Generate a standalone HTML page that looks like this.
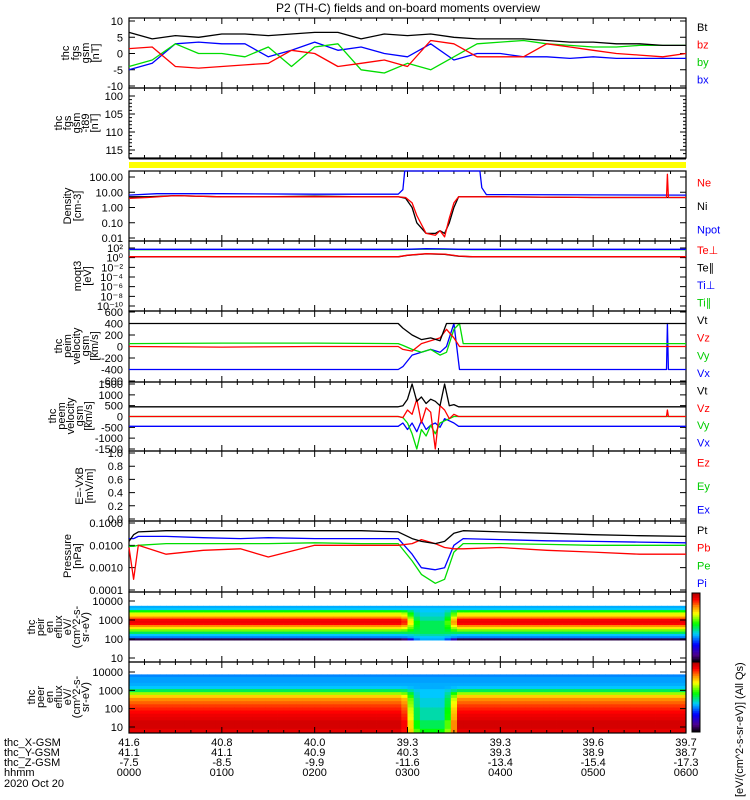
<!DOCTYPE html>
<html><head><meta charset="utf-8"><style>
html,body{margin:0;padding:0;background:#fff;}
svg{display:block;font-family:"Liberation Sans",sans-serif;}
</style></head><body>
<svg id="chart" width="750" height="800" viewBox="0 0 750 800">
<rect width="750" height="800" fill="#fff"/>
<text x="408" y="12" font-size="12" text-anchor="middle">P2 (TH-C) fields and on-board moments overview</text>
<g id="g"></g>
</svg>
<script>
// ---------- data ----------
const tB = [0,0.25,0.5,0.75,1,1.25,1.5,1.75,2,2.25,2.5,2.75,3,3.25,3.5,3.75,4,4.25,4.5,4.75,5,5.25,5.5,5.75,6];
const Bt = [6.5,4.5,5.5,5,6,6,5.5,6,6.5,6.5,4.5,6,5.5,6,5,4.5,4.5,4.5,4,3.5,3.5,3,3,2.5,2.5];
const bz = [1.5,2,-4,-4.5,-4,-3.5,-3,1,0,-4,-3,-2,-4,4,3,-1,-1,-1,3,2,1,0,-0.5,-1,0];
const by = [-4,-2,3,0,0,-1,2,-4,2,3,-5,-6,-3,-5,-1,3,3.5,4,3,2.5,2,2,2.5,2.5,2.5];
const bx = [-5,-3,3,3.5,3,3,-1,1,3.5,1,2,0,-1,3,-2,0,0,-1,-1,-1.5,-1,-1.5,-1.5,-1.5,-1.5];

const tN = [0,0.2,0.5,1,1.5,2,2.5,2.9,2.98,3.05,3.1,3.2,3.3,3.35,3.4,3.45,3.5,3.55,3.6,4,5,5.79,5.8,5.81,6];
const Ni = [5,5,6,5,5,5.5,5,5,4,1,0.1,0.02,0.02,0.03,0.02,0.1,1,5,5,5,4.5,4.5,4.5,4.5,4.5];
const Ne = [4,4.5,6,5,5,5,5,5,4.5,2,0.3,0.02,0.015,0.03,0.012,0.2,2,5,5,5,4.5,4.5,150,4.5,4.5];
const tP = [0,0.3,1,2,2.9,2.95,2.97,3.78,3.8,3.85,6];
const Npot = [6.5,8,8,7.5,7.5,15,300,300,20,7,6.5];

const tT = [0,1,2,2.9,3.0,3.2,3.4,3.55,3.7,6];
const Tipar = [45,45,45,45,48,60,55,50,45,45];
const Tiperp = [55,55,55,55,55,70,65,55,55,55];
const Tepar = [1.5,1.5,1.5,1.5,3,6,5,2,1.5,1.5];
const Teperp = [1.6,1.6,1.6,1.6,3.2,6.5,5.5,2.2,1.6,1.6];

const tV = [0,1,2,2.9,2.95,3.05,3.15,3.25,3.35,3.42,3.5,3.56,3.6,5.79,5.8,5.81,6];
const Vt = [400,400,400,400,320,200,120,150,100,400,400,400,400,400,400,400,400];
const Vz = [0,-10,0,0,-50,-80,50,100,150,300,150,0,0,0,0,0,0];
const Vy = [50,60,60,50,20,-50,-100,-50,-150,-100,300,400,50,50,50,50,50];
const Vx = [-400,-400,-400,-400,-350,-150,-100,-50,-100,0,400,-400,-400,-400,400,-400,-400];

const tE = [0,1,2,2.9,2.95,3.0,3.05,3.1,3.15,3.2,3.25,3.3,3.35,3.4,3.45,3.5,3.55,4,5,5.79,5.8,5.81,6];
const eVt = [450,450,450,450,500,800,1500,700,900,600,800,700,500,1500,500,550,450,450,450,450,450,450,450];
const eVz = [0,0,0,0,-50,300,100,800,-300,400,200,-1500,500,300,-100,100,0,0,0,0,300,0,0];
const eVy = [0,0,0,0,-50,-300,-800,-1500,-600,-900,-400,-800,-300,-200,-100,0,0,0,0,0,0,0,0];
const eVx = [-450,-450,-450,-450,-300,-600,-300,-700,-200,-600,-400,-300,-500,-100,-200,-300,-450,-450,-450,-450,-450,-450,-450];

const tPr = [0,0.05,0.1,0.4,0.8,1.2,1.5,2,2.5,2.9,3.05,3.15,3.3,3.4,3.5,3.6,4,4.5,5,5.5,6];
const Pt = [0.015,0.03,0.04,0.045,0.045,0.045,0.045,0.045,0.045,0.04,0.02,0.015,0.012,0.015,0.035,0.045,0.04,0.035,0.03,0.027,0.025];
const Pi = [0.02,0.02,0.025,0.025,0.022,0.02,0.022,0.02,0.02,0.02,0.004,0.001,0.0008,0.001,0.01,0.02,0.018,0.016,0.015,0.014,0.013];
const Pe = [0.009,0.009,0.01,0.012,0.012,0.012,0.012,0.013,0.012,0.012,0.002,0.0005,0.0002,0.0003,0.005,0.012,0.012,0.011,0.01,0.01,0.01];
const Pb = [0.008,0.0003,0.01,0.004,0.006,0.007,0.003,0.01,0.01,0.01,0.012,0.018,0.012,0.008,0.007,0.007,0.008,0.006,0.005,0.004,0.004];

const peirE = [100,130,170,220,300,400,500,650,850,1100,1400,1800,2300,3000,4000,5000];
const peirSheath = [0.05,0.35,0.4,0.5,0.62,0.72,0.8,0.9,0.92,0.9,0.8,0.72,0.68,0.55,0.4,0.38];
const peirLobe = [0.38,0.4,0.45,0.5,0.5,0.5,0.5,0.5,0.5,0.45,0.45,0.42,0.42,0.4,0.4,0.38];
const peerE = [5,7,10,14,20,30,45,70,100,150,220,330,500,700,1000,1500,2200,3300,5000,6500];
const peerSheath = [0.93,0.93,0.95,0.95,0.95,0.93,0.92,0.9,0.88,0.86,0.83,0.8,0.74,0.64,0.5,0.4,0.38,0.37,0.37,0.35];
const peerLobe = [0.55,0.55,0.5,0.5,0.5,0.45,0.45,0.45,0.45,0.42,0.42,0.42,0.4,0.4,0.4,0.38,0.38,0.37,0.37,0.35];
const lobeT = [0,2.95,3.12,3.4,3.55,6];
const lobeF = [0,0,1,1,0,0];

const hourLabels = ["0000","0100","0200","0300","0400","0500","0600"];
const xGsm = ["41.6","40.8","40.0","39.3","39.3","39.6","39.7"];
const yGsm = ["41.1","41.1","40.9","40.3","39.3","38.9","38.7"];
const zGsm = ["-7.5","-8.5","-9.9","-11.6","-13.4","-15.4","-17.3"];

// ---------- helpers ----------
const NS="http://www.w3.org/2000/svg";
const G=document.getElementById('g');
const X0=129, X1=686;
const xS = t => X0 + t*(X1-X0)/6;
function el(tag, attrs, parent){const e=document.createElementNS(NS,tag);for(const k in attrs)e.setAttribute(k,attrs[k]);(parent||G).appendChild(e);return e;}
function txt(x,y,s,opt){const e=el('text',Object.assign({x:x,y:y,'font-size':11},opt||{}));e.textContent=s;return e;}
const lin=(v0,v1,y0,y1)=>v=>y0+(v-v0)*(y1-y0)/(v1-v0);
const lg=(v0,v1,y0,y1)=>v=>y0+(Math.log10(Math.max(v,1e-20))-Math.log10(v0))*(y1-y0)/(Math.log10(v1)-Math.log10(v0));

function frame(top,bot,name){
  const r=el('rect',{x:X0,y:top,width:X1-X0,height:bot-top,fill:'none',stroke:'#000','stroke-width':1.2});
  
  
  let d='';
  for(let m=0;m<=360;m+=10){const x=xS(m/60);const L=(m%60===0)?6:3;d+=`M${x},${top}v${L}M${x},${bot}v${-L}`;}
  el('path',{d:d,stroke:'#000','stroke-width':1,fill:'none'});
}
function yTicks(vals,labels,yf,name,minor){
  let d='';
  vals.forEach((v,i)=>{const y=yf(v);d+=`M${X0},${y}h6M${X1},${y}h-6`;
    const t=txt(123,y+4,labels[i],{'text-anchor':'end','font-size':11});
    
    });
  (minor||[]).forEach(v=>{const y=yf(v);d+=`M${X0},${y}h3M${X1},${y}h-3`;});
  el('path',{d:d,stroke:'#000','stroke-width':1});
}
function ylabel(lines,cx,cy,name,sp){
  sp=sp||10;
  const n=lines.length;
  lines.forEach((s,i)=>{const x=cx-(n-1)*sp/2+i*sp;
    const t=txt(0,0,s,{'text-anchor':'middle','font-size':11,transform:`translate(${x+4},${cy}) rotate(-90)`});
    
    });
}
function legend(items,top,bot,name){
  const n=items.length, step=(bot-top)/n;
  items.forEach((it,i)=>{const t=txt(697,top+step*(i+0.5)+4,it[0],{fill:it[1],'font-size':11});
    
    });
}
function line(ts,vs,yf,color,name,top,bot){
  let d='';ts.forEach((t,i)=>{let y=yf(vs[i]);y=Math.max(top,Math.min(bot,y));d+=(i?'L':'M')+xS(t).toFixed(1)+','+y.toFixed(1);});
  const p=el('path',{d:d,stroke:color,'stroke-width':1.3,fill:'none','stroke-linejoin':'round'});
  
  
}
function interp(ts,vs,t){for(let i=1;i<ts.length;i++){if(t<=ts[i]){const f=(t-ts[i-1])/(ts[i]-ts[i-1]||1);return vs[i-1]+f*(vs[i]-vs[i-1]);}}return vs[vs.length-1];}
const stops=[[0,[0,0,0]],[0.1,[80,0,140]],[0.25,[0,0,255]],[0.4,[0,200,255]],[0.55,[0,255,0]],[0.7,[255,255,0]],[0.8,[255,140,0]],[0.9,[255,0,0]],[1,[170,0,0]]];
function cmap(v){v=Math.max(0,Math.min(1,v));for(let i=1;i<stops.length;i++){if(v<=stops[i][0]){const a=stops[i-1],b=stops[i],f=(v-a[0])/(b[0]-a[0]);const c=a[1].map((c0,k)=>Math.round(c0+f*(b[1][k]-c0)));return `rgb(${c})`;}}return 'rgb(170,0,0)';}
function spec(E,sh,lo,yf,top,bot,name){
  const g=el('g',{});
  
  
  const ncol=90,w=(X1-X0)/ncol;
  for(let c=0;c<ncol;c++){
    const t=(c+0.5)*6/ncol, f=interp(lobeT,lobeF,t);
    for(let b=0;b<E.length;b++){
      const eLo=b?Math.sqrt(E[b]*E[b-1]):E[0]/Math.sqrt(E[1]/E[0]);
      const eHi=b<E.length-1?Math.sqrt(E[b]*E[b+1]):E[b]*Math.sqrt(E[b]/E[b-1]);
      let y0=Math.max(top,yf(eHi)),y1=Math.min(bot,yf(eLo));if(y1<=y0)continue;
      el('rect',{x:(X0+c*w).toFixed(2),y:y0.toFixed(2),width:(w+0.4).toFixed(2),height:(y1-y0+0.4).toFixed(2),fill:cmap((1-f)*sh[b]+f*lo[b])},g);
    }
  }
}

// ---------- panel 1: B field ----------
let y1=lin(-10,10,86,21);
frame(18,88,'bfield');
yTicks([10,5,0,-5,-10],['10','5','0','-5','-10'],y1,'bfield');
ylabel(['thc','fgs','gsm','[nT]'],80,53,'bfield');
line(tB,bx,y1,'#0000ff','bx-line',18,88);
line(tB,by,y1,'#00dd00','by-line',18,88);
line(tB,bz,y1,'#ff0000','bz-line',18,88);
line(tB,Bt,y1,'#000','bt-line',18,88);
legend([['Bt','#000'],['bz','#f00'],['by','#0c0'],['bx','#00f']],18,88,'bfield');

// ---------- panel 2: T89 ----------
let y2=lin(100,115,96,150);
frame(88,158,'t89');
yTicks([100,105,110,115],['100','105','110','115'],y2,'t89',[101,102,103,104,106,107,108,109,111,112,113,114,116]);
ylabel(['thc','fgs','gsm','-t89','[nT]'],76,123,'t89',9);

// yellow bar
el('line',{x1:X0,x2:X1,y1:159,y2:159,stroke:'#000','stroke-width':1});
el('rect',{x:X0,y:162,width:X1-X0,height:6,fill:'#ffff00',});

// ---------- panel 3: density ----------
let y3=lg(0.01,100,238,177);
frame(171,241,'density');
yTicks([100,10,1,0.1,0.01],['100.00','10.00','1.00','0.10','0.01'],y3,'density');
ylabel(['Density','[cm-3]'],72,206,'density');
line(tP,Npot,y3,'#0000ff','npot-line',171,241);
line(tN,Ni,y3,'#000','ni-line',171,241);
line(tN,Ne,y3,'#ff0000','ne-line',171,241);
legend([['Ne','#f00'],['Ni','#000'],['Npot','#00f']],171,241,'density');

// ---------- panel 4: temperature ----------
let y4=lg(1e-10,100,306,248);
frame(241,311,'temp');
yTicks([100,1,1e-2,1e-4,1e-6,1e-8,1e-10],['10²','10⁰','10⁻²','10⁻⁴','10⁻⁶','10⁻⁸','10⁻¹⁰'],y4,'temp');
ylabel(['moqt3','[eV]'],82,276,'temp');
line(tT,Tipar,y4,'#00dd00','ti-par-line',241,311);
line(tT,Tiperp,y4,'#0000ff','ti-perp-line',241,311);
line(tT,Tepar,y4,'#000','te-par-line',241,311);
line(tT,Teperp,y4,'#ff0000','te-perp-line',241,311);
legend([['Te⊥','#f00'],['Te∥','#000'],['Ti⊥','#00f'],['Ti∥','#0c0']],241,311,'temp');

// ---------- panel 5: peim velocity ----------
let y5=lin(-600,600,381,312);
frame(311,382,'peim');
yTicks([600,400,200,0,-200,-400,-600],['600','400','200','0','-200','-400','-600'],y5,'peim');
ylabel(['thc','peim','velocity','gsm','[km/s]'],76,346,'peim',9);
line(tV,Vx,y5,'#0000ff','peim-vx-line',311,382);
line(tV,Vy,y5,'#00dd00','peim-vy-line',311,382);
line(tV,Vz,y5,'#ff0000','peim-vz-line',311,382);
line(tV,Vt,y5,'#000','peim-vt-line',311,382);
legend([['Vt','#000'],['Vz','#f00'],['Vy','#0c0'],['Vx','#00f']],311,382,'peim');

// ---------- panel 6: peem velocity ----------
let y6=lin(-1500,1500,449,384);
frame(382,451,'peem');
yTicks([1500,1000,500,0,-500,-1000,-1500],['1500','1000','500','0','-500','-1000','-1500'],y6,'peem');
ylabel(['thc','peem','velocity','gsm','[km/s]'],70,416,'peem',9);
line(tE,eVx,y6,'#0000ff','peem-vx-line',382,451);
line(tE,eVy,y6,'#00dd00','peem-vy-line',382,451);
line(tE,eVz,y6,'#ff0000','peem-vz-line',382,451);
line(tE,eVt,y6,'#000','peem-vt-line',382,451);
legend([['Vt','#000'],['Vz','#f00'],['Vy','#0c0'],['Vx','#00f']],382,451,'peem');

// ---------- panel 7: E field ----------
let y7=lin(0,1,519,453);
frame(451,521,'efield');
yTicks([1,0.8,0.6,0.4,0.2,0],['1.0','0.8','0.6','0.4','0.2','0.0'],y7,'efield');
ylabel(['E=-VxB','[mV/m]'],84,486,'efield');
legend([['Ez','#f00'],['Ey','#0c0'],['Ex','#00f']],451,521,'efield');

// ---------- panel 8: pressure ----------
let y8=lg(0.0001,0.1,590,523);
frame(521,592,'pressure');
yTicks([0.1,0.01,0.001,0.0001],['0.1000','0.0100','0.0010','0.0001'],y8,'pressure');
ylabel(['Pressure','[nPa]'],72,556,'pressure');
line(tPr,Pe,y8,'#00dd00','pe-line',521,592);
line(tPr,Pi,y8,'#0000ff','pi-line',521,592);
line(tPr,Pb,y8,'#ff0000','pb-line',521,592);
line(tPr,Pt,y8,'#000','pt-line',521,592);
legend([['Pt','#000'],['Pb','#f00'],['Pe','#0c0'],['Pi','#00f']],521,592,'pressure');

// ---------- panel 9: peir spectrogram ----------
let y9=lg(10,10000,658,601);
spec(peirE,peirSheath,peirLobe,y9,592,662,'peir-spectrogram');
frame(592,662,'peir');
yTicks([10000,1000,100,10],['10000','1000','100','10'],y9,'peir');
ylabel(['thc','peir','en','eflux','eV/','(cm^2-s-','sr-eV)'],58,627,'peir',9);

// ---------- panel 10: peer spectrogram ----------
let y10=lg(10,10000,727,672);
spec(peerE,peerSheath,peerLobe,y10,662,733,'peer-spectrogram');
frame(662,733,'peer');
yTicks([10000,1000,100,10],['10000','1000','100','10'],y10,'peer');
ylabel(['thc','peer','en','eflux','eV/','(cm^2-s-','sr-eV)'],58,697,'peer',9);

// colorbars
[[593,662],[662,732]].forEach((r,k)=>{
  const n=40,h=(r[1]-r[0])/n;
  for(let i=0;i<n;i++)el('rect',{x:692,y:r[0]+i*h,width:8,height:h+0.3,fill:cmap(1-(i+0.5)/n)});
  const b=el('rect',{x:692,y:r[0],width:8,height:r[1]-r[0],fill:'none',stroke:'#000','stroke-width':1});
  
  
});
const cl=txt(0,0,'[eV/(cm^2-s-sr-eV)]   (All Qs)',{'font-size':11,transform:'translate(743,797) rotate(-90)'});



// ---------- bottom time labels ----------
const rows=[['thc_X-GSM',xGsm,746],['thc_Y-GSM',yGsm,756],['thc_Z-GSM',zGsm,766],['hhmm',hourLabels,776]];
rows.forEach((r,k)=>{
  const t=txt(4,r[2],r[0],{'font-size':11});
  
  
  r[1].forEach((s,i)=>{const v=txt(xS(i),r[2],s,{'text-anchor':'middle','font-size':11});
    
    });
});
const dt=txt(4,787,'2020 Oct 20',{'font-size':11});


</script>
</body></html>
